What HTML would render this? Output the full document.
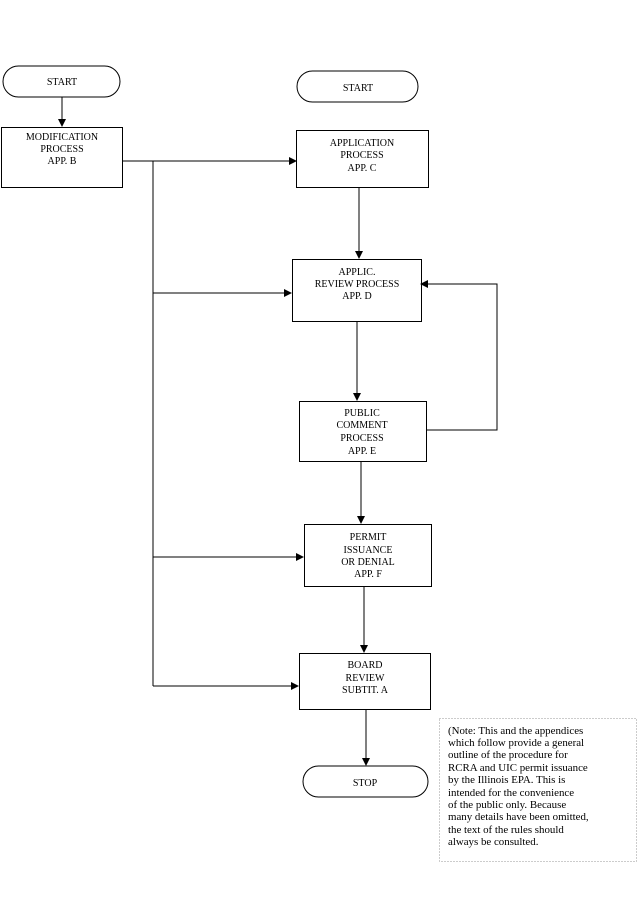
<!DOCTYPE html>
<html><head><meta charset="utf-8"><style>
body{margin:0;background:#fff}
svg{display:block}
text{font-family:"Liberation Serif",serif;font-size:10px;fill:#000;text-anchor:middle}
.n{text-anchor:start;font-size:10.9px}
</style></head><body>
<svg width="637" height="900" viewBox="0 0 637 900" xmlns="http://www.w3.org/2000/svg">
<defs><marker id="a" markerWidth="8" markerHeight="8" refX="7" refY="4" orient="auto" markerUnits="userSpaceOnUse"><path d="M0,0L8,4L0,8z" fill="#000"/></marker></defs>
<g fill="none" stroke="#000" stroke-width="1">
<rect x="3" y="66" width="117" height="31" rx="15.5"/>
<rect x="1.5" y="127.5" width="121" height="60"/>
<rect x="297" y="71" width="121" height="31" rx="15.5"/>
<rect x="296.5" y="130.5" width="132" height="57"/>
<rect x="292.5" y="259.5" width="129" height="62"/>
<rect x="299.5" y="401.5" width="127" height="60"/>
<rect x="304.5" y="524.5" width="127" height="62"/>
<rect x="299.5" y="653.5" width="131" height="56"/>
<rect x="303" y="766" width="125" height="31" rx="15.5"/>
<rect x="439.5" y="718.5" width="197" height="143" stroke="#999" stroke-dasharray="1,2"/>
<line x1="62" y1="97" x2="62" y2="126" marker-end="url(#a)"/>
<line x1="122" y1="161" x2="296" y2="161" marker-end="url(#a)"/>
<line x1="153" y1="161" x2="153" y2="686"/>
<line x1="153" y1="293" x2="291" y2="293" marker-end="url(#a)"/>
<line x1="153" y1="557" x2="303" y2="557" marker-end="url(#a)"/>
<line x1="153" y1="686" x2="298" y2="686" marker-end="url(#a)"/>
<line x1="359" y1="187" x2="359" y2="258" marker-end="url(#a)"/>
<line x1="357" y1="321" x2="357" y2="400" marker-end="url(#a)"/>
<polyline points="426,430 497,430 497,284 421,284" marker-end="url(#a)"/>
<line x1="361" y1="461" x2="361" y2="523" marker-end="url(#a)"/>
<line x1="364" y1="586" x2="364" y2="652" marker-end="url(#a)"/>
<line x1="366" y1="709" x2="366" y2="765" marker-end="url(#a)"/>
</g>
<text x="62" y="85">START</text>
<text x="62" y="140">MODIFICATION</text>
<text x="62" y="152">PROCESS</text>
<text x="62" y="164">APP. B</text>
<text x="358" y="91">START</text>
<text x="362" y="146">APPLICATION</text>
<text x="362" y="158">PROCESS</text>
<text x="362" y="171">APP. C</text>
<text x="357" y="275">APPLIC.</text>
<text x="357" y="287">REVIEW PROCESS</text>
<text x="357" y="299">APP. D</text>
<text x="362" y="416">PUBLIC</text>
<text x="362" y="428">COMMENT</text>
<text x="362" y="441">PROCESS</text>
<text x="362" y="454">APP. E</text>
<text x="368" y="540">PERMIT</text>
<text x="368" y="553">ISSUANCE</text>
<text x="368" y="565">OR DENIAL</text>
<text x="368" y="577">APP. F</text>
<text x="365" y="668">BOARD</text>
<text x="365" y="681">REVIEW</text>
<text x="365" y="693">SUBTIT. A</text>
<text x="365" y="786">STOP</text>
<text class="n" x="448" y="734">(Note: This and the appendices</text>
<text class="n" x="448" y="746">which follow provide a general</text>
<text class="n" x="448" y="758">outline of the procedure for</text>
<text class="n" x="448" y="771">RCRA and UIC permit issuance</text>
<text class="n" x="448" y="783">by the Illinois EPA. This is</text>
<text class="n" x="448" y="796">intended for the convenience</text>
<text class="n" x="448" y="808">of the public only. Because</text>
<text class="n" x="448" y="820">many details have been omitted,</text>
<text class="n" x="448" y="833">the text of the rules should</text>
<text class="n" x="448" y="845">always be consulted.</text>
</svg>
</body></html>
